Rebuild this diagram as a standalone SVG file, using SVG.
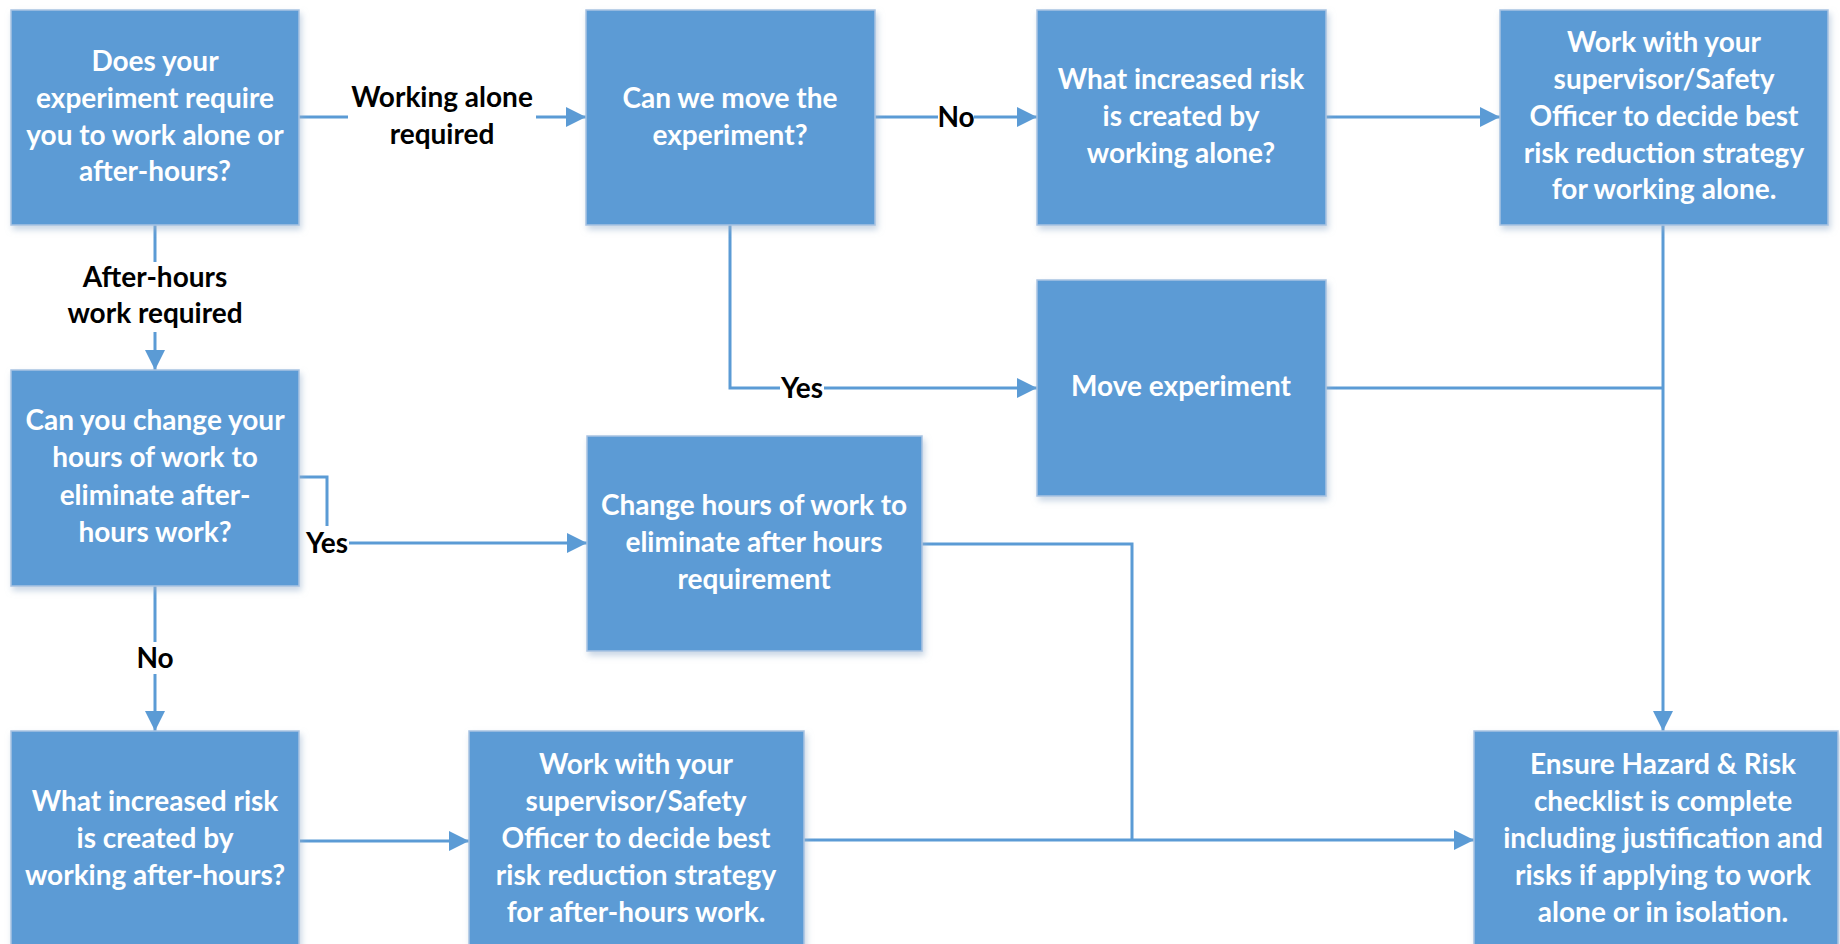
<svg xmlns="http://www.w3.org/2000/svg" width="1840" height="944" viewBox="0 0 1840 944">
<style>
.box{fill:#5B9BD5;stroke:#A9C3E2;stroke-width:1.5;filter:url(#sh)}
.t{font-family:Lato,"Liberation Sans",sans-serif;font-weight:700;font-size:28px;fill:#fff;text-anchor:middle}
.lb{font-family:Lato,"Liberation Sans",sans-serif;font-weight:700;font-size:28px;fill:#000;text-anchor:middle}
.c{fill:none;stroke:#5B9BD5;stroke-width:3}
.a{marker-end:url(#ah)}
.bg{fill:#fff}
</style>
<defs>
<filter id="sh" x="-10%" y="-10%" width="125%" height="125%">
<feDropShadow dx="2" dy="4" stdDeviation="3" flood-color="#9DB4CF" flood-opacity="0.55"/>
</filter>
<marker id="ah" markerUnits="userSpaceOnUse" markerWidth="20" markerHeight="20" refX="20" refY="10" orient="auto">
<path d="M0,0 L20,10 L0,20 z" fill="#5B9BD5"/>
</marker>
</defs>
<rect width="1840" height="944" fill="#fff"/>
<g id="connectors">
<path class="c a" d="M299,117 H586"/>
<path class="c a" d="M875,117 H1037"/>
<path class="c a" d="M1326,117 H1500"/>
<path class="c a" d="M730,225 V388 H1037"/>
<path class="c a" d="M155,225 V370"/>
<path class="c a" d="M299,477 H327 V543 H587"/>
<path class="c a" d="M155,586 V731"/>
<path class="c" d="M922,544 H1132 V840"/>
<path class="c a" d="M300,841 H469"/>
<path class="c a" d="M804,840 H1474"/>
<path class="c a" d="M1663,225 V731"/>
<path class="c" d="M1326,388 H1663"/>
<rect class="bg" x="348" y="88" width="188" height="66"/>
<text class="lb" x="442" y="107">Working alone</text>
<text class="lb" x="442" y="144">required</text>
<rect class="bg" x="938" y="102" width="36" height="30"/>
<text class="lb" x="956" y="127">No</text>
<rect class="bg" x="780" y="373" width="44" height="30"/>
<text class="lb" x="802" y="398">Yes</text>
<rect class="bg" x="70" y="262" width="170" height="70"/>
<text class="lb" x="155" y="287">After-hours</text>
<text class="lb" x="155" y="323">work required</text>
<rect class="bg" x="305" y="526" width="44" height="32"/>
<text class="lb" x="327" y="553">Yes</text>
<rect class="bg" x="136" y="642" width="38" height="32"/>
<text class="lb" x="155" y="668">No</text>
</g>
<g id="n1"><rect class="box" x="11" y="10" width="288" height="215"/>
<text class="t"><tspan x="155" y="71">Does your</tspan><tspan x="155" y="108">experiment require</tspan><tspan x="155" y="145">you to work alone or</tspan><tspan x="155" y="181">after-hours?</tspan></text></g>
<g id="n2"><rect class="box" x="586" y="10" width="289" height="215"/>
<text class="t"><tspan x="730" y="108">Can we move the</tspan><tspan x="730" y="145">experiment?</tspan></text></g>
<g id="n3"><rect class="box" x="1037" y="10" width="289" height="215"/>
<text class="t"><tspan x="1181" y="89">What increased risk</tspan><tspan x="1181" y="126">is created by</tspan><tspan x="1181" y="163">working alone?</tspan></text></g>
<g id="n4"><rect class="box" x="1500" y="10" width="328" height="215"/>
<text class="t"><tspan x="1664" y="52">Work with your</tspan><tspan x="1664" y="89">supervisor/Safety</tspan><tspan x="1664" y="126">Officer to decide best</tspan><tspan x="1664" y="163">risk reduction strategy</tspan><tspan x="1664" y="199">for working alone.</tspan></text></g>
<g id="n5"><rect class="box" x="1037" y="280" width="289" height="216"/>
<text class="t"><tspan x="1181" y="396">Move experiment</tspan></text></g>
<g id="n6"><rect class="box" x="587" y="436" width="335" height="215"/>
<text class="t"><tspan x="754" y="515">Change hours of work to</tspan><tspan x="754" y="552">eliminate after hours</tspan><tspan x="754" y="589">requirement</tspan></text></g>
<g id="n7"><rect class="box" x="11" y="370" width="288" height="216"/>
<text class="t"><tspan x="155" y="430">Can you change your</tspan><tspan x="155" y="467">hours of work to</tspan><tspan x="155" y="505">eliminate after-</tspan><tspan x="155" y="542">hours work?</tspan></text></g>
<g id="n8"><rect class="box" x="11" y="731" width="288" height="220"/>
<text class="t"><tspan x="155" y="811">What increased risk</tspan><tspan x="155" y="848">is created by</tspan><tspan x="155" y="885">working after-hours?</tspan></text></g>
<g id="n9"><rect class="box" x="469" y="731" width="335" height="220"/>
<text class="t"><tspan x="636" y="774">Work with your</tspan><tspan x="636" y="811">supervisor/Safety</tspan><tspan x="636" y="848">Officer to decide best</tspan><tspan x="636" y="885">risk reduction strategy</tspan><tspan x="636" y="922">for after-hours work.</tspan></text></g>
<g id="n10"><rect class="box" x="1474" y="731" width="364" height="220"/>
<text class="t"><tspan x="1663" y="774">Ensure Hazard &amp; Risk</tspan><tspan x="1663" y="811">checklist is complete</tspan><tspan x="1663" y="848">including justification and</tspan><tspan x="1663" y="885">risks if applying to work</tspan><tspan x="1663" y="922">alone or in isolation.</tspan></text></g>
</svg>
